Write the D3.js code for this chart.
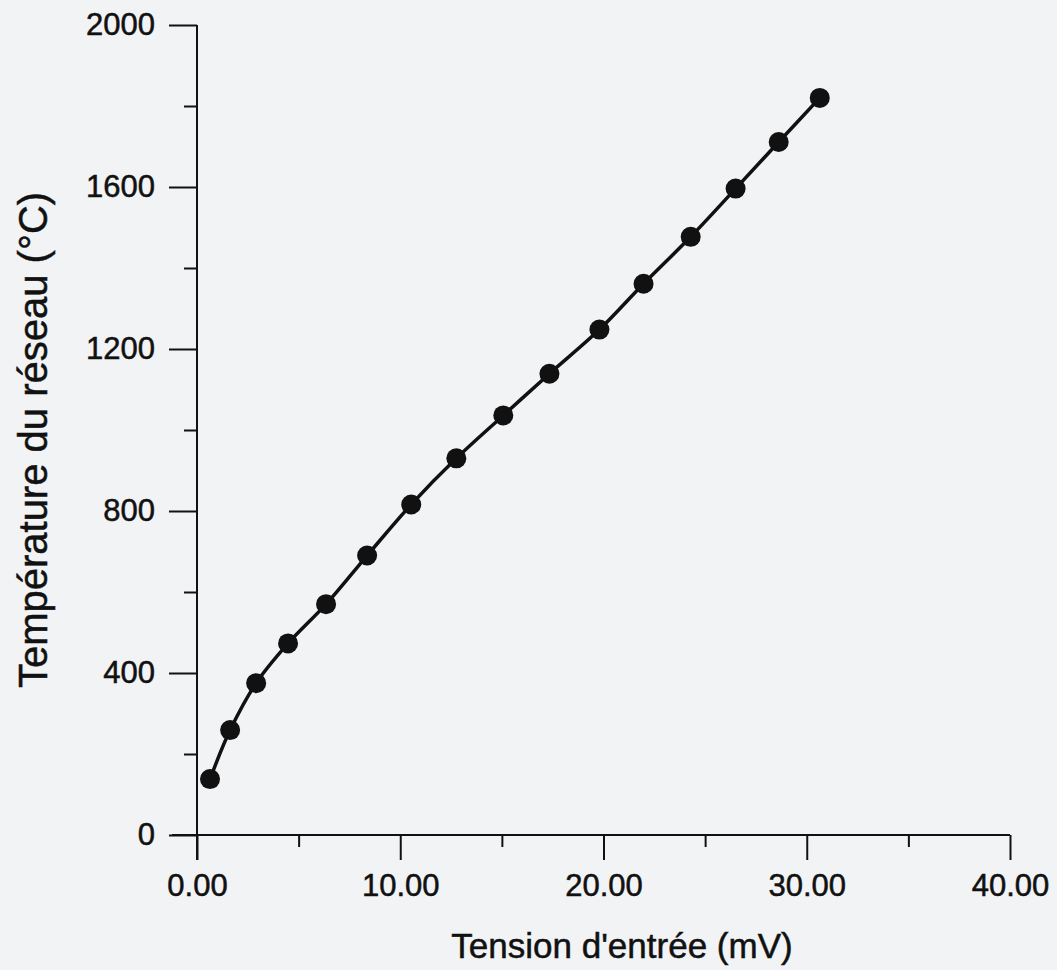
<!DOCTYPE html>
<html>
<head>
<meta charset="utf-8">
<script src="https://cdn.jsdelivr.net/npm/d3@7/dist/d3.min.js"></script>
<style>
  html, body { margin: 0; padding: 0; background: #f2f3f5; }
  svg { display: block; }
  text { font-family: "Liberation Sans", Arial, sans-serif; fill: #111; stroke: #111; stroke-width: 0.5px; }
</style>
</head>
<body>
<svg id="chart" width="1057" height="970"></svg>
<script>
// Input voltage (mV) and grid temperature (°C) calibration points
const tension = [0.64, 1.63, 2.91, 4.48, 6.35, 8.37, 10.54, 12.76, 15.07, 17.34, 19.80, 21.97, 24.29, 26.50, 28.62, 30.64];
const temperature = [138, 259, 375, 473, 570, 690, 816, 930, 1036, 1139, 1248, 1361, 1477, 1596, 1711, 1820];

const xMajorTicks = [0, 10, 20, 30, 40];
const xMinorTicks = [5, 15, 25, 35];
const yMajorTicks = [0, 400, 800, 1200, 1600, 2000];
const yMinorTicks = [200, 600, 1000, 1400, 1800];

const xTitle = "Tension d'entrée (mV)";
const yTitle = "Température du réseau (°C)";

const svg = d3.select("#chart");
const ink = "#111";

const x = d3.scaleLinear().domain([0, 40]).range([197, 1010]);
const y = d3.scaleLinear().domain([0, 2000]).range([835, 25]);

// X axis: line extends left to the y-axis major tick, ticks hang downward
const xAxisMajor = d3.axisBottom(x).tickValues(xMajorTicks).tickSize(25)
  .tickFormat(d3.format(".2f")).tickPadding(20);
const xAxisMinor = d3.axisBottom(x).tickValues(xMinorTicks).tickSize(12).tickFormat("");

const gx = svg.append("g").attr("transform", `translate(0,${y(0)})`);
gx.call(xAxisMajor);
gx.append("g").call(xAxisMinor);
gx.selectAll(".domain").remove();
gx.append("line").attr("x1", x(0) - 25).attr("x2", x(40)).attr("y1", 0).attr("y2", 0)
  .attr("stroke", ink).attr("stroke-width", 2);
gx.selectAll(".tick line").attr("stroke", ink).attr("stroke-width", 2);
gx.selectAll(".tick text").attr("font-size", 31).attr("fill", ink)
  .attr("dy", "0.5em");

// Y axis: line extends down to the x-axis major tick, ticks point left
const yAxisMajor = d3.axisLeft(y).tickValues(yMajorTicks).tickSize(28)
  .tickFormat(d3.format("d")).tickPadding(14);
const yAxisMinor = d3.axisLeft(y).tickValues(yMinorTicks).tickSize(13).tickFormat("");

const gy = svg.append("g").attr("transform", `translate(${x(0)},0)`);
gy.call(yAxisMajor);
gy.append("g").call(yAxisMinor);
gy.selectAll(".domain").remove();
gy.append("line").attr("x1", 0).attr("x2", 0).attr("y1", y(2000)).attr("y2", y(0) + 25)
  .attr("stroke", ink).attr("stroke-width", 2);
gy.selectAll(".tick line").attr("stroke", ink).attr("stroke-width", 2);
gy.selectAll(".tick text").attr("font-size", 31).attr("fill", ink);

// Axis titles
svg.append("text")
  .attr("x", 622).attr("y", 958)
  .attr("text-anchor", "middle")
  .attr("font-size", 35)
  .text(xTitle);

svg.append("text")
  .attr("transform", `translate(47,440) rotate(-90)`)
  .attr("text-anchor", "middle")
  .attr("font-size", 40)
  .text(yTitle);

// Smooth calibration curve and measured points
const pts = tension.map((v, i) => [v, temperature[i]]);

const line = d3.line()
  .x(d => x(d[0]))
  .y(d => y(d[1]))
  .curve(d3.curveCatmullRom.alpha(0.5));

svg.append("path")
  .datum(pts)
  .attr("d", line)
  .attr("fill", "none")
  .attr("stroke", ink)
  .attr("stroke-width", 3.5);

svg.append("g").selectAll("circle")
  .data(pts)
  .join("circle")
  .attr("cx", d => x(d[0]))
  .attr("cy", d => y(d[1]))
  .attr("r", 10)
  .attr("fill", ink);
</script>
</body>
</html>
